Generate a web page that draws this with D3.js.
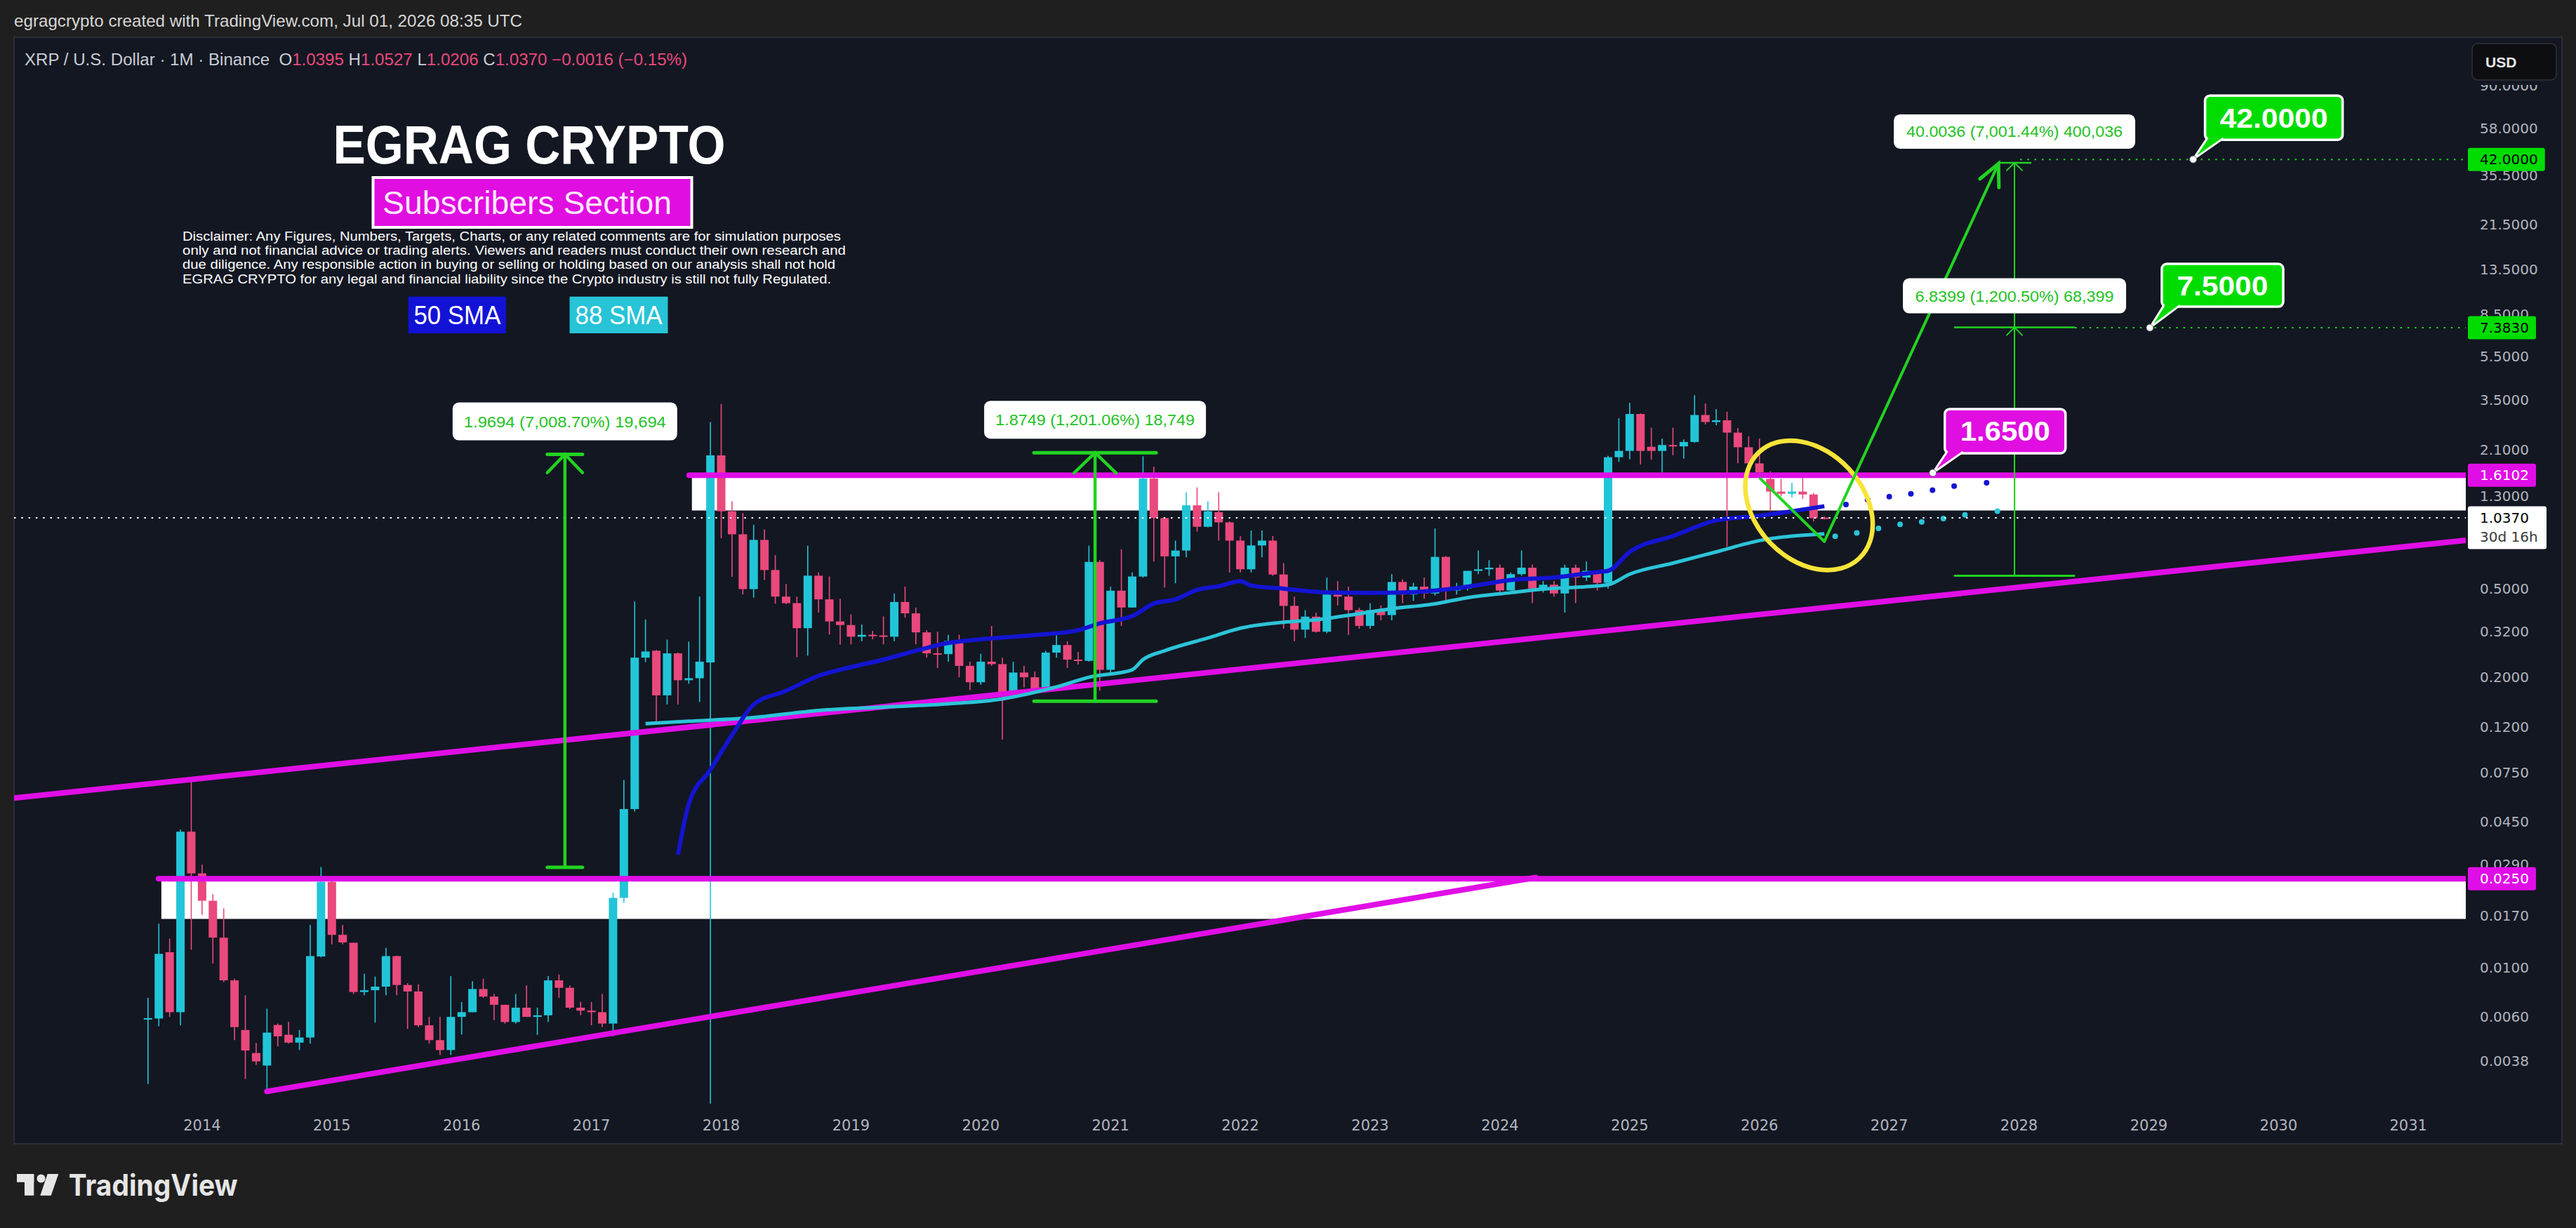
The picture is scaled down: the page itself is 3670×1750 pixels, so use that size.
<!DOCTYPE html>
<html>
<head>
<meta charset="utf-8">
<script src="https://cdn.jsdelivr.net/npm/d3@7"></script>
<style>
html, body { margin: 0; padding: 0; background: #1f1f1f; }
svg { display: block; }
text { white-space: pre; }
</style>
</head>
<body>
<svg id="chart" width="3670" height="1750"></svg>
<script>
// XRP / USD monthly candles, Aug 2013 .. Jul 2026
var startMonth = "2013-08";
var opens = [
  0.0059, 0.0059, 0.0117, 0.0063, 0.0406,
  0.0264, 0.0199, 0.0136, 0.00875, 0.00524, 0.00413, 0.00363, 0.00552, 0.00499, 0.0046, 0.00485, 0.0112,
  0.0242, 0.0140, 0.0129, 0.00776, 0.0079, 0.0082, 0.01124, 0.00834, 0.0078, 0.0055, 0.00472, 0.00426,
  0.0060, 0.0063, 0.0080, 0.0074, 0.0068, 0.00569, 0.0066, 0.0060, 0.0061, 0.00875, 0.0081, 0.0066,
  0.0064, 0.0063, 0.0056, 0.0205, 0.0513, 0.245, 0.263, 0.166, 0.256, 0.194, 0.198, 0.233,
  1.977, 1.11, 0.875, 0.497, 0.826, 0.605, 0.46, 0.43, 0.332, 0.571, 0.447, 0.356,
  0.343, 0.304, 0.31, 0.308, 0.304, 0.435, 0.387, 0.318, 0.256, 0.254, 0.291, 0.225,
  0.19, 0.235, 0.229, 0.171, 0.21, 0.2, 0.177, 0.258, 0.279, 0.24, 0.237, 0.658,
  0.216, 0.489, 0.411, 0.566, 1.555, 1.035, 0.697, 0.74, 1.18, 0.946, 1.10, 0.99,
  0.82, 0.61, 0.78, 0.82, 0.578, 0.418, 0.327, 0.374, 0.32, 0.47, 0.46, 0.40,
  0.34, 0.40, 0.38, 0.535, 0.47, 0.51, 0.475, 0.693, 0.49, 0.50, 0.60, 0.61,
  0.62, 0.49, 0.58, 0.62, 0.50, 0.52, 0.475, 0.62, 0.56, 0.60, 0.53, 1.94,
  2.07, 3.03, 2.16, 2.07, 2.20, 2.17, 2.27, 3.0, 2.79, 2.84, 2.50, 2.15,
  1.82, 1.55, 1.36, 1.33, 1.36, 1.32, 1.0395
];
var highs = [
  0.0073, 0.0157, 0.01345, 0.0415, 0.0706,
  0.0289, 0.0213, 0.0184, 0.0089, 0.0075, 0.00459, 0.00653, 0.0056, 0.0057, 0.00524, 0.01553, 0.0282,
  0.0244, 0.0155, 0.0129, 0.00937, 0.0091, 0.01225, 0.0113, 0.0085, 0.0084, 0.0060, 0.0060, 0.00914,
  0.0070, 0.00867, 0.0089, 0.0076, 0.0068, 0.0076, 0.0083, 0.0066, 0.00914, 0.0093, 0.0083, 0.0070,
  0.0070, 0.0076, 0.0216, 0.0693, 0.437, 0.363, 0.265, 0.295, 0.258, 0.289, 0.460, 2.79,
  3.36, 1.23, 1.09, 0.966, 0.921, 0.705, 0.524, 0.46, 0.778, 0.59, 0.566, 0.45,
  0.383, 0.345, 0.323, 0.375, 0.475, 0.51, 0.41, 0.325, 0.32, 0.31, 0.31, 0.235,
  0.255, 0.34, 0.245, 0.235, 0.225, 0.212, 0.263, 0.32, 0.29, 0.26, 0.778, 0.67,
  0.51, 0.75, 0.59, 1.96, 1.76, 1.035, 0.82, 1.35, 1.42, 1.23, 1.35, 1.0,
  0.857, 0.91, 0.91, 0.86, 0.65, 0.46, 0.40, 0.39, 0.56, 0.54, 0.51, 0.41,
  0.43, 0.42, 0.58, 0.55, 0.53, 0.56, 0.93, 0.70, 0.53, 0.60, 0.74, 0.67,
  0.64, 0.59, 0.74, 0.64, 0.54, 0.54, 0.64, 0.64, 0.66, 0.60, 1.97, 2.90,
  3.40, 3.05, 2.63, 2.35, 2.63, 2.33, 3.68, 3.38, 3.19, 3.10, 2.62, 2.41,
  2.35, 1.68, 1.55, 1.49, 1.57, 1.34, 1.0527
];
var lows = [
  0.0030, 0.00545, 0.0060, 0.0055, 0.0120,
  0.0172, 0.0104, 0.0086, 0.00472, 0.00316, 0.00365, 0.00281, 0.00443, 0.00455, 0.00426, 0.00455, 0.0111,
  0.0127, 0.0127, 0.0076, 0.0075, 0.00566, 0.0075, 0.0075, 0.0053, 0.0054, 0.00455, 0.00405, 0.00405,
  0.0050, 0.0063, 0.0073, 0.0058, 0.0056, 0.0056, 0.0060, 0.00498, 0.0057, 0.0073, 0.0065, 0.0061,
  0.0055, 0.0054, 0.00491, 0.0195, 0.050, 0.234, 0.127, 0.151, 0.151, 0.187, 0.155, 0.00245,
  0.841, 0.564, 0.470, 0.455, 0.546, 0.427, 0.425, 0.246, 0.25, 0.39, 0.311, 0.28,
  0.281, 0.29, 0.296, 0.281, 0.29, 0.37, 0.281, 0.245, 0.22, 0.235, 0.2, 0.175,
  0.185, 0.225, 0.105, 0.165, 0.18, 0.17, 0.172, 0.245, 0.22, 0.228, 0.235, 0.174,
  0.21, 0.34, 0.41, 0.56, 0.66, 0.505, 0.528, 0.69, 0.90, 0.94, 0.82, 0.59,
  0.59, 0.59, 0.69, 0.57, 0.33, 0.29, 0.30, 0.317, 0.315, 0.42, 0.31, 0.33,
  0.33, 0.36, 0.36, 0.43, 0.44, 0.45, 0.465, 0.43, 0.47, 0.49, 0.58, 0.57,
  0.48, 0.49, 0.57, 0.43, 0.48, 0.46, 0.39, 0.43, 0.54, 0.49, 0.50, 1.85,
  1.90, 1.80, 1.89, 1.66, 1.98, 1.91, 2.25, 2.72, 2.70, 0.77, 1.82, 1.80,
  1.62, 1.11, 1.30, 1.28, 1.26, 1.0, 1.0206
];
var closes = [
  0.00592, 0.0115, 0.0063, 0.0406, 0.0264,
  0.0199, 0.0136, 0.00875, 0.0054, 0.00424, 0.00379, 0.0051, 0.00491, 0.0046, 0.00485, 0.01124, 0.0242,
  0.0140, 0.01294, 0.00776, 0.0079, 0.0082, 0.01124, 0.00834, 0.0078, 0.0055, 0.00472, 0.00426, 0.0060,
  0.0063, 0.0080, 0.0074, 0.0068, 0.00569, 0.0066, 0.0060, 0.0061, 0.00875, 0.0081, 0.0066, 0.0064,
  0.0063, 0.0056, 0.0205, 0.0513, 0.245, 0.261, 0.166, 0.256, 0.194, 0.198, 0.235, 1.977,
  1.11, 0.875, 0.497, 0.826, 0.605, 0.46, 0.43, 0.332, 0.571, 0.447, 0.356, 0.343,
  0.304, 0.31, 0.308, 0.304, 0.435, 0.387, 0.318, 0.256, 0.254, 0.291, 0.225, 0.19,
  0.235, 0.229, 0.171, 0.21, 0.2, 0.177, 0.258, 0.279, 0.24, 0.237, 0.658, 0.216,
  0.489, 0.411, 0.566, 1.555, 1.035, 0.697, 0.74, 1.18, 0.946, 1.11, 0.99, 0.82,
  0.61, 0.78, 0.82, 0.578, 0.418, 0.327, 0.374, 0.32, 0.47, 0.46, 0.40, 0.34,
  0.40, 0.38, 0.535, 0.47, 0.51, 0.475, 0.693, 0.49, 0.50, 0.60, 0.61, 0.62,
  0.49, 0.58, 0.62, 0.50, 0.52, 0.475, 0.62, 0.56, 0.60, 0.53, 1.94, 2.07,
  3.03, 2.07, 2.07, 2.20, 2.17, 2.27, 3.0, 2.79, 2.84, 2.50, 2.15, 1.82,
  1.66, 1.36, 1.33, 1.36, 1.32, 1.034, 1.037
];

// moving averages as drawn on the chart
var sma50Months = ["2017-09","2017-10","2017-12","2018-02","2018-04","2018-07","2018-10","2019-01","2019-04","2019-07","2019-10","2020-01","2020-04","2020-07","2020-10","2020-12","2021-03","2021-05","2021-07","2021-09","2021-11","2022-01","2022-02","2022-05","2022-09","2023-01","2023-04","2023-08","2023-11","2024-02","2024-06","2024-10","2024-11","2025-01","2025-05","2025-09","2026-01","2026-07"];
var sma50Values = [0.032,0.054,0.077,0.11,0.151,0.174,0.203,0.222,0.24,0.263,0.285,0.296,0.304,0.312,0.325,0.349,0.376,0.428,0.447,0.493,0.512,0.539,0.516,0.499,0.48,0.478,0.48,0.495,0.518,0.546,0.56,0.593,0.60,0.73,0.86,1.01,1.06,1.17];
var sma88Months = ["2017-06","2017-10","2018-04","2018-10","2019-04","2019-10","2020-03","2020-08","2020-11","2021-03","2021-04","2021-06","2021-10","2022-01","2022-05","2022-08","2022-12","2023-03","2023-07","2023-10","2024-02","2024-05","2024-09","2024-11","2025-01","2025-05","2025-09","2026-01","2026-07"];
var sma88Values = [0.124,0.127,0.132,0.142,0.147,0.152,0.16,0.181,0.20,0.216,0.24,0.263,0.30,0.332,0.353,0.362,0.386,0.406,0.427,0.455,0.479,0.497,0.51,0.52,0.58,0.65,0.73,0.82,0.88];
var sma50FcMonths = ["2026-09","2026-11","2027-01","2027-03","2027-05","2027-07","2027-10"];
var sma50FcValues = [1.19,1.25,1.29,1.33,1.38,1.44,1.49];
var sma88FcMonths = ["2026-08","2026-10","2026-12","2027-02","2027-04","2027-06","2027-08","2027-11"];
var sma88FcValues = [0.857,0.888,0.93,0.97,0.995,1.03,1.07,1.11];

// drawings
var zoneStart = ["2013-09-08", "2017-10-10"];
var zoneTop = [0.025, 1.6102];
var zoneBottom = [0.0165, 1.119];
var trendA = [["2013-01", 0.0612], ["2031-01", 0.773]];
var trendB = [["2014-07", 0.00278], ["2024-04-10", 0.0253]];
var zigzag = [["2026-01", 1.568], ["2026-07", 0.812], ["2027-11-04", 40.2]];
var circleAt = ["2026-05-19", 1.18];
var measureDates = ["2016-10-18", "2020-11-18", "2027-12-19", "2027-12-19"];
var measureFrom = [0.0281, 0.1561, 0.5714, 0.5698];
var measureTo = [1.9975, 2.031, 40.575, 7.4097];
var measureLabels = ["1.9694 (7,008.70%) 19,694", "1.8749 (1,201.06%) 18,749", "40.0036 (7,001.44%) 400,036", "6.8399 (1,200.50%) 68,399"];
var calloutDates = ["2029-05-04", "2029-01-04", "2027-05-02"];
var calloutPrices = [42, 7.383, 1.65];
var calloutLabels = ["42.0000", "7.5000", "1.6500"];
var rayDates = ["2028-01-04", "2028-06-06"];
var rayPrices = [42, 7.383];

// axes
var years = d3.range(2014, 2032);
var priceTicks = [90, 58, 35.5, 21.5, 13.5, 8.5, 5.5, 3.5, 2.1, 1.3, 0.5, 0.32, 0.2, 0.12, 0.075, 0.045, 0.029, 0.017, 0.01, 0.006, 0.0038];
var tagPrices = [42, 7.383, 1.6102, 0.025, 1.037];
var tagLabels = ["42.0000", "7.3830", "1.6102", "0.0250", "1.0370"];

var disclaimer = [
  "Disclaimer: Any Figures, Numbers, Targets, Charts, or any related comments are for simulation purposes",
  "only and not financial advice or trading alerts. Viewers and readers must conduct their own research and",
  "due diligence. Any responsible action in buying or selling or holding based on our analysis shall not hold",
  "EGRAG CRYPTO for any legal and financial liability since the Crypto industry is still not fully Regulated."
];

var UP = "#22c5d8", DOWN = "#e9497c", MAGENTA = "#e00ee6", GREEN = "#22d322",
    BLUE = "#1414d2", CYAN = "#2cc4d8", AXIS = "#b2b5be";
var SANS = "'Liberation Sans', Arial, sans-serif";
var NARROW = "'Liberation Sans Narrow', 'Liberation Sans', Arial, sans-serif";
var MONO = "'DejaVu Sans', sans-serif";

var pane = {x0: 20, y0: 53, x1: 3650, y1: 1630};
var plot = {x0: 20, x1: 3513, y0: 53, y1: 1578};

function monthIndex(s) {
  var p = s.split("-").map(Number);
  var idx = (p[0] - 2014) * 12 + (p[1] - 1);
  if (p[2]) idx += (p[2] - 1) / new Date(Date.UTC(p[0], p[1], 0)).getUTCDate();
  return idx;
}

var x = d3.scaleLinear().domain([0, 204]).range([287.9, 3431.2]);
var y = d3.scaleLog().domain([148.3, 0.002359]).range([plot.y0, plot.y1]);

var svg = d3.select("#chart");
svg.append("rect").attr("width", 3670).attr("height", 1750).attr("fill", "#1f1f1f");
svg.append("rect")
    .attr("x", pane.x0).attr("y", pane.y0)
    .attr("width", pane.x1 - pane.x0).attr("height", pane.y1 - pane.y0)
    .attr("fill", "#131722").attr("stroke", "#2a2e39").attr("stroke-width", 2);

var defs = svg.append("defs");
defs.append("clipPath").attr("id", "plotClip").append("rect")
    .attr("x", plot.x0).attr("y", plot.y0)
    .attr("width", plot.x1 - plot.x0).attr("height", plot.y1 - plot.y0);
defs.append("clipPath").attr("id", "axisClip").append("rect")
    .attr("x", plot.x1).attr("y", 121)
    .attr("width", pane.x1 - plot.x1).attr("height", plot.y1 - 121);

var g = svg.append("g").attr("clip-path", "url(#plotClip)");

// white zones
zoneStart.forEach(function(d, k) {
  g.append("rect")
      .attr("x", x(monthIndex(d))).attr("y", y(zoneTop[k]))
      .attr("width", plot.x1 - x(monthIndex(d)))
      .attr("height", y(zoneBottom[k]) - y(zoneTop[k]))
      .attr("fill", "#ffffff");
});

// candles
var s0 = monthIndex(startMonth);
var bars = closes.map(function(c, i) {
  return {i: s0 + i, o: opens[i], h: highs[i], l: lows[i], c: c};
});
var candle = g.append("g").selectAll("g").data(bars).join("g");
candle.append("line")
    .attr("x1", function(d) { return x(d.i); })
    .attr("x2", function(d) { return x(d.i); })
    .attr("y1", function(d) { return y(d.h); })
    .attr("y2", function(d) { return y(d.l); })
    .attr("stroke", function(d) { return d.c >= d.o ? UP : DOWN; })
    .attr("stroke-width", 1.6);
candle.append("rect")
    .attr("x", function(d) { return x(d.i) - 6; })
    .attr("width", 12)
    .attr("y", function(d) { return y(Math.max(d.o, d.c)); })
    .attr("height", function(d) { return Math.max(2, Math.abs(y(d.o) - y(d.c))); })
    .attr("fill", function(d) { return d.c >= d.o ? UP : DOWN; });

// magenta horizontal levels and trend lines
zoneStart.forEach(function(d, k) {
  g.append("line")
      .attr("x1", x(monthIndex(d)) - 4).attr("x2", plot.x1 + 10)
      .attr("y1", y(zoneTop[k])).attr("y2", y(zoneTop[k]))
      .attr("stroke", MAGENTA).attr("stroke-width", 8).attr("stroke-linecap", "round");
});
(function() {
  var x1 = x(monthIndex(trendA[0][0])), y1 = y(trendA[0][1]);
  var x2 = x(monthIndex(trendA[1][0])), y2 = y(trendA[1][1]);
  var m = (y2 - y1) / (x2 - x1);
  g.append("line")
      .attr("x1", plot.x0).attr("y1", y1 + m * (plot.x0 - x1))
      .attr("x2", plot.x1).attr("y2", y1 + m * (plot.x1 - x1))
      .attr("stroke", MAGENTA).attr("stroke-width", 8);
})();
g.append("line")
    .attr("x1", x(monthIndex(trendB[0][0]))).attr("y1", y(trendB[0][1]))
    .attr("x2", x(monthIndex(trendB[1][0]))).attr("y2", y(trendB[1][1]))
    .attr("stroke", MAGENTA).attr("stroke-width", 8).attr("stroke-linecap", "round");

// moving averages
var maLine = d3.line()
    .x(function(d) { return x(monthIndex(d[0])); })
    .y(function(d) { return y(d[1]); })
    .curve(d3.curveMonotoneX);
g.append("path").datum(d3.zip(sma88Months, sma88Values)).attr("d", maLine)
    .attr("fill", "none").attr("stroke", CYAN).attr("stroke-width", 5);
g.append("path").datum(d3.zip(sma50Months, sma50Values)).attr("d", maLine)
    .attr("fill", "none").attr("stroke", BLUE).attr("stroke-width", 6);
g.selectAll(".fc50").data(d3.zip(sma50FcMonths, sma50FcValues)).join("circle")
    .attr("cx", function(d) { return x(monthIndex(d[0])); })
    .attr("cy", function(d) { return y(d[1]); })
    .attr("r", 4).attr("fill", BLUE);
g.selectAll(".fc88").data(d3.zip(sma88FcMonths, sma88FcValues)).join("circle")
    .attr("cx", function(d) { return x(monthIndex(d[0])); })
    .attr("cy", function(d) { return y(d[1]); })
    .attr("r", 4).attr("fill", CYAN);

// last price dotted line
var last = closes.length - 1;
g.append("line")
    .attr("x1", plot.x0).attr("x2", plot.x1)
    .attr("y1", y(closes[last])).attr("y2", y(closes[last]))
    .attr("stroke", "#ffffff").attr("stroke-width", 2).attr("stroke-dasharray", "2.5,7.8");

// green dotted rays
rayDates.forEach(function(d, k) {
  g.append("line")
      .attr("x1", x(monthIndex(d))).attr("x2", plot.x1)
      .attr("y1", y(rayPrices[k])).attr("y2", y(rayPrices[k]))
      .attr("stroke", GREEN).attr("stroke-width", 2).attr("stroke-dasharray", "2.5,7.8");
});

// yellow circle
g.append("ellipse")
    .attr("transform", "translate(" + x(monthIndex(circleAt[0])) + "," + y(circleAt[1]) + ") rotate(-43.4)")
    .attr("rx", 77).attr("ry", 104)
    .attr("fill", "none").attr("stroke", "#f7e43a").attr("stroke-width", 6.5);

// green projection path with arrow
var zz = zigzag.map(function(d) { return [x(monthIndex(d[0])), y(d[1])]; });
g.append("path").attr("d", d3.line()(zz))
    .attr("fill", "none").attr("stroke", GREEN).attr("stroke-width", 4).attr("stroke-linejoin", "round");
(function() {
  var a = zz[1], b = zz[2];
  var ang = Math.atan2(b[1] - a[1], b[0] - a[0]);
  var wing = function(t) { return [b[0] - 34 * Math.cos(ang + t), b[1] - 34 * Math.sin(ang + t)]; };
  g.append("path").attr("d", d3.line()([wing(0.45), b, wing(-0.45)]))
      .attr("fill", "none").attr("stroke", GREEN).attr("stroke-width", 5).attr("stroke-linecap", "round");
})();

// measurement tools
var measureStyle = [
  {lw: 4.5, capT: 25, capB: 25, hw: 25, hh: 26, bw: 320, bh: 54, tl: 288},
  {lw: 4.5, capT: 87, capB: 87, hw: 30, hh: 29, bw: 316, bh: 54, tl: 284},
  {lw: 2, capT: 23, capB: 85, hw: 11, hh: 11, bw: 344, bh: 49, tl: 308},
  {lw: 2, capT: 85, capB: 85, hw: 11, hh: 11, bw: 318, bh: 50, tl: 283}
];
var layer = svg.append("g").attr("clip-path", "url(#plotClip)");
measureDates.forEach(function(d, k) {
  var st = measureStyle[k];
  var xv = x(monthIndex(d)), yT = y(measureTo[k]), yB = y(measureFrom[k]);
  var capW = st.lw > 3 ? 5 : 2.5;
  layer.append("line").attr("x1", xv).attr("x2", xv).attr("y1", yT).attr("y2", yB)
      .attr("stroke", GREEN).attr("stroke-width", st.lw);
  layer.append("line").attr("x1", xv - st.capT).attr("x2", xv + st.capT).attr("y1", yT).attr("y2", yT)
      .attr("stroke", GREEN).attr("stroke-width", capW).attr("stroke-linecap", "round");
  layer.append("line").attr("x1", xv - st.capB).attr("x2", xv + st.capB).attr("y1", yB).attr("y2", yB)
      .attr("stroke", GREEN).attr("stroke-width", capW).attr("stroke-linecap", "round");
  layer.append("path").attr("d", d3.line()([[xv - st.hw, yT + st.hh], [xv, yT], [xv + st.hw, yT + st.hh]]))
      .attr("fill", "none").attr("stroke", GREEN).attr("stroke-width", st.lw).attr("stroke-linecap", "round");
});
measureDates.forEach(function(d, k) {
  var st = measureStyle[k];
  var xv = x(monthIndex(d)), yT = y(measureTo[k]);
  var by = yT - 20 - st.bh;
  layer.append("rect").attr("x", xv - st.bw / 2).attr("y", by).attr("width", st.bw).attr("height", st.bh)
      .attr("rx", 9).attr("fill", "#ffffff");
  layer.append("text").attr("x", xv).attr("y", by + st.bh / 2 + 8)
      .attr("text-anchor", "middle").attr("font-family", SANS).attr("font-size", 22)
      .attr("fill", "#1fc21f").attr("textLength", st.tl).attr("lengthAdjust", "spacingAndGlyphs")
      .text(measureLabels[k]);
});

// callouts
var calloutStyle = [
  {fill: "#00dc00", w: 196, h: 63, tl: 154},
  {fill: "#00dc00", w: 173, h: 61, tl: 130},
  {fill: "#e00ee0", w: 172, h: 63, tl: 128}
];
calloutDates.forEach(function(d, k) {
  var st = calloutStyle[k];
  var ax = x(monthIndex(d)), ay = y(calloutPrices[k]);
  var bx = ax + 17, by = ay - 91;
  layer.append("rect").attr("x", bx).attr("y", by).attr("width", st.w).attr("height", st.h)
      .attr("rx", 7).attr("fill", st.fill).attr("stroke", "#ffffff").attr("stroke-width", 3.5);
  layer.append("path")
      .attr("d", "M" + (bx + 3) + "," + (by + st.h - 2) + "L" + ax + "," + ay + "L" + (bx + 26) + "," + (by + st.h - 2))
      .attr("fill", st.fill).attr("stroke", "#ffffff").attr("stroke-width", 3).attr("stroke-linejoin", "round");
  layer.append("circle").attr("cx", ax).attr("cy", ay).attr("r", 5)
      .attr("fill", "#ffffff").attr("stroke", "#666").attr("stroke-width", 1);
  layer.append("text").attr("x", bx + st.w / 2).attr("y", by + st.h / 2 + 14)
      .attr("text-anchor", "middle").attr("font-family", SANS).attr("font-weight", "bold")
      .attr("font-size", 38).attr("fill", "#ffffff")
      .attr("textLength", st.tl).attr("lengthAdjust", "spacingAndGlyphs")
      .text(calloutLabels[k]);
});

// price axis
svg.append("g").attr("clip-path", "url(#axisClip)")
  .selectAll("text").data(priceTicks).join("text")
    .attr("x", 3533).attr("y", function(d) { return y(d) + 7; })
    .attr("font-family", MONO).attr("font-size", 20).attr("fill", AXIS)
    .text(function(d) { return d.toFixed(4); });

var tagStyle = [
  {fill: "#00dc00", color: "#000000"},
  {fill: "#00dc00", color: "#000000"},
  {fill: MAGENTA, color: "#ffffff"},
  {fill: MAGENTA, color: "#ffffff"},
  {fill: "#ffffff", color: "#000000"}
];
tagPrices.forEach(function(v, k) {
  var st = tagStyle[k];
  var cy = y(v);
  var isLast = k === tagPrices.length - 1;
  var rect = svg.append("rect").attr("x", 3516).attr("y", cy - 16.5)
      .attr("height", isLast ? 61 : 33).attr("rx", 3).attr("fill", st.fill);
  var t = svg.append("text").attr("x", 3533).attr("y", cy + 7)
      .attr("font-family", MONO).attr("font-size", 20).attr("fill", st.color)
      .text(tagLabels[k]);
  rect.attr("width", isLast ? 112 : t.node().getComputedTextLength() + 27);
  if (isLast) {
    svg.append("text").attr("x", 3533).attr("y", cy + 34)
        .attr("font-family", MONO).attr("font-size", 20).attr("fill", "#3a3a3a")
        .text("30d 16h");
  }
});

// USD box
svg.append("rect").attr("x", 3522).attr("y", 62).attr("width", 120).attr("height", 52)
    .attr("rx", 8).attr("fill", "#0d0e11").attr("stroke", "#2f323a").attr("stroke-width", 1.5);
svg.append("text").attr("x", 3541).attr("y", 96).attr("font-family", SANS).attr("font-weight", "bold")
    .attr("font-size", 21).attr("fill", "#e8e8e8").text("USD");

// time axis
svg.append("g").selectAll("text").data(years).join("text")
    .attr("x", function(d) { return x(monthIndex(d + "-01")); })
    .attr("y", 1611).attr("text-anchor", "middle")
    .attr("font-family", MONO).attr("font-size", 21).attr("fill", AXIS)
    .text(function(d) { return d; });

// header
svg.append("text").attr("x", 20).attr("y", 38).attr("font-family", SANS).attr("font-size", 24)
    .attr("fill", "#d6d6d6").attr("textLength", 724).attr("lengthAdjust", "spacingAndGlyphs")
    .text("egragcrypto created with TradingView.com, Jul 01, 2026 08:35 UTC");
var fmt = d3.format(".4f");
var legendParts = [
  ["XRP / U.S. Dollar · 1M · Binance  O", "#c9ccd3"], [fmt(opens[last]), DOWN],
  [" H", "#c9ccd3"], [fmt(highs[last]), DOWN],
  [" L", "#c9ccd3"], [fmt(lows[last]), DOWN],
  [" C", "#c9ccd3"], [fmt(closes[last]), DOWN],
  [" −0.0016 (−0.15%)", DOWN]
];
var legend = svg.append("text").attr("x", 35).attr("y", 93).attr("font-family", SANS).attr("font-size", 23)
    .attr("textLength", 944).attr("lengthAdjust", "spacingAndGlyphs");
legendParts.forEach(function(p) { legend.append("tspan").attr("fill", p[1]).text(p[0]); });

// title block
svg.append("text").attr("x", 754).attr("y", 233).attr("text-anchor", "middle")
    .attr("font-family", NARROW).attr("font-weight", "bold").attr("font-size", 78)
    .attr("fill", "#ffffff").attr("textLength", 559).attr("lengthAdjust", "spacingAndGlyphs")
    .text("EGRAG CRYPTO");
svg.append("rect").attr("x", 531.5).attr("y", 253).attr("width", 454).attr("height", 71)
    .attr("fill", "#e00ee0").attr("stroke", "#ffffff").attr("stroke-width", 4);
svg.append("text").attr("x", 751).attr("y", 305).attr("text-anchor", "middle")
    .attr("font-family", SANS).attr("font-size", 46).attr("fill", "#fbe8fb")
    .attr("textLength", 412).attr("lengthAdjust", "spacingAndGlyphs")
    .text("Subscribers Section");
var discLen = [938, 945, 930, 924];
disclaimer.forEach(function(line, k) {
  svg.append("text").attr("x", 260).attr("y", 343 + k * 20.2)
      .attr("font-family", SANS).attr("font-size", 18).attr("fill", "#ffffff")
      .attr("textLength", discLen[k]).attr("lengthAdjust", "spacingAndGlyphs")
      .text(line);
});
svg.append("rect").attr("x", 581.8).attr("y", 422.7).attr("width", 139).attr("height", 52.3).attr("fill", "#1212d6");
svg.append("text").attr("x", 651.4).attr("y", 462).attr("text-anchor", "middle")
    .attr("font-family", SANS).attr("font-size", 37).attr("fill", "#ffffff")
    .attr("textLength", 124).attr("lengthAdjust", "spacingAndGlyphs").text("50 SMA");
svg.append("rect").attr("x", 811.5).attr("y", 422.7).attr("width", 140).attr("height", 52.3).attr("fill", "#27c3d7");
svg.append("text").attr("x", 881.5).attr("y", 462).attr("text-anchor", "middle")
    .attr("font-family", SANS).attr("font-size", 37).attr("fill", "#ffffff")
    .attr("textLength", 124).attr("lengthAdjust", "spacingAndGlyphs").text("88 SMA");

// TradingView logo
var logo = svg.append("g").attr("transform", "translate(24,1673)").attr("fill", "#e6e6e6");
logo.append("rect").attr("x", 0).attr("y", 0).attr("width", 24.3).attr("height", 11.7);
logo.append("rect").attr("x", 11).attr("y", 0).attr("width", 13.3).attr("height", 30.7);
logo.append("circle").attr("cx", 34.5).attr("cy", 6.5).attr("r", 6);
logo.append("path").attr("d", "M43.7,0L59.3,0L48.7,30.7L33.3,30.7Z");
svg.append("text").attr("x", 97.7).attr("y", 1704)
    .attr("font-family", "Inter, 'Noto Sans', sans-serif").attr("font-weight", "bold").attr("font-size", 42)
    .attr("fill", "#e6e6e6").attr("textLength", 241).attr("lengthAdjust", "spacingAndGlyphs")
    .text("TradingView");
</script>
</body>
</html>
